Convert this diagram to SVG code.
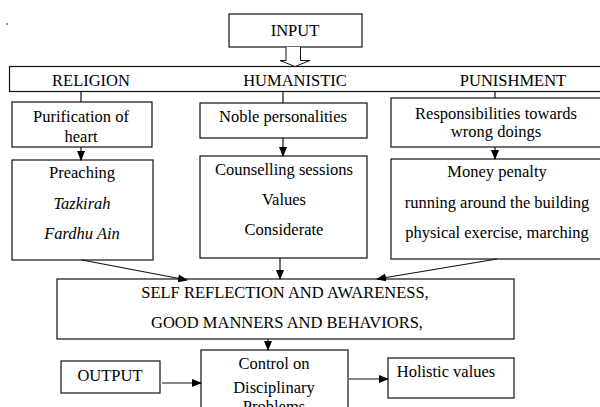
<svg xmlns="http://www.w3.org/2000/svg" width="600" height="407" viewBox="0 0 600 407">
<defs>
<marker id="ah" markerWidth="10" markerHeight="8" refX="9" refY="4" orient="auto" markerUnits="userSpaceOnUse">
<path d="M0,0 L10,4 L0,8 Z" fill="#000"/>
</marker>
<style>
.b{fill:#fff;stroke:#111;stroke-width:1.2}
.i{font-style:italic}
.c{stroke:#111;stroke-width:1.2;fill:none}
.a{stroke:#111;stroke-width:1.2;fill:none;marker-end:url(#ah)}
</style>
</defs>
<rect width="600" height="407" fill="#fff"/>
<circle cx="7" cy="24" r="0.8" fill="#000"/>

<g font-family="Liberation Serif, Times New Roman, serif" font-size="16.5" text-anchor="middle" fill="#000">
<g id="input">
<rect class="b" x="229" y="14" width="133" height="33"/>
<text x="295" y="36">INPUT</text>
</g>

<g id="band">
<rect class="b" x="9.5" y="66.5" width="600" height="25"/>
<text x="91" y="86">RELIGION</text>
<text x="295" y="86">HUMANISTIC</text>
<text x="513" y="86">PUNISHMENT</text>
</g>

<g id="purification">
<rect class="b" x="12" y="102" width="140" height="45"/>
<text x="81" y="122">Purification of</text>
<text x="81" y="142">heart</text>
</g>

<g id="noble">
<rect class="b" x="200" y="103" width="167" height="35"/>
<text x="283" y="122">Noble personalities</text>
</g>

<g id="responsibilities">
<rect class="b" x="391" y="98" width="215" height="49"/>
<text x="496" y="119">Responsibilities towards</text>
<text x="496" y="137">wrong doings</text>
</g>

<g id="preaching">
<rect class="b" x="12" y="160" width="141" height="100"/>
<text x="82" y="178">Preaching</text>
<text class="i" x="82" y="209">Tazkirah</text>
<text class="i" x="82" y="239">Fardhu Ain</text>
</g>

<g id="counselling">
<rect class="b" x="200" y="156" width="167" height="102"/>
<text x="284" y="175">Counselling sessions</text>
<text x="284" y="205">Values</text>
<text x="284" y="235">Considerate</text>
</g>

<g id="money">
<rect class="b" x="391" y="159" width="215" height="100"/>
<text x="497" y="177">Money penalty</text>
<text x="497" y="208">running around the building</text>
<text x="497" y="238">physical exercise, marching</text>
</g>

<g id="self">
<rect class="b" x="57" y="279" width="457" height="60"/>
<text x="285" y="298">SELF REFLECTION AND AWARENESS,</text>
<text x="287" y="328">GOOD MANNERS AND BEHAVIORS,</text>
</g>

<g id="control">
<rect class="b" x="201" y="350" width="147" height="70"/>
<text x="274" y="369">Control on</text>
<text x="274" y="393">Disciplinary</text>
<text x="274" y="412">Problems</text>
</g>

<g id="output">
<rect class="b" x="61" y="361" width="99" height="32"/>
<text x="110" y="381">OUTPUT</text>
</g>

<g id="holistic">
<rect class="b" x="388" y="358" width="126" height="40"/>
<text x="446" y="377">Holistic values</text>
</g>
</g>

<g id="connectors">
<path d="M286,47 V60.5 H280 L295,66.5 L310,60.5 H300.5 V47" fill="#fff" stroke="#111" stroke-width="1"/>
<path class="c" d="M81,91.5 V102"/>
<path class="c" d="M283,91.5 V103"/>
<path class="c" d="M495,91.5 V98"/>
<path class="a" d="M81,147 V160"/>
<path class="a" d="M283,138 V156"/>
<path class="a" d="M495,147 V159"/>
<path class="a" d="M82,260 L187,280"/>
<path class="a" d="M280,258 V279"/>
<path class="a" d="M497,259 L377,279"/>
<path class="a" d="M268,339 V350"/>
<path class="a" d="M162,383 H201"/>
<path class="a" d="M349,379 H388"/>
</g>
</svg>
